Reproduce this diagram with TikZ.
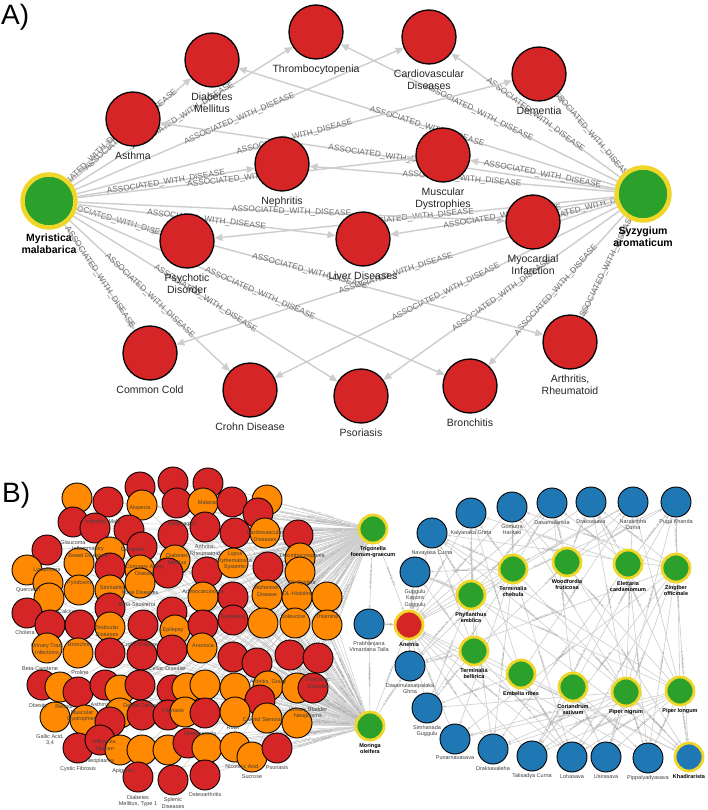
\documentclass[tikz,border=0pt]{standalone}
\usepackage{fontspec}
\setmainfont{Liberation Sans}
\usetikzlibrary{arrows.meta}
\pgfdeclarelayer{back}
\pgfdeclarelayer{bg}
\pgfsetlayers{back,bg,main}
\definecolor{dred}{RGB}{214,37,38}
\definecolor{hgreen}{RGB}{43,160,43}
\definecolor{hyel}{RGB}{240,214,40}
\definecolor{borange}{RGB}{255,137,0}
\definecolor{bblue}{RGB}{31,119,180}
\definecolor{egray}{RGB}{205,205,205}
\definecolor{lgray}{RGB}{110,110,110}
\begin{document}
\begin{tikzpicture}[x=1pt,y=-1pt]
\tikzset{
 dis/.style={circle,draw=black,line width=1.3pt,fill=dred,minimum size=54pt,inner sep=0pt},
 herbA/.style={circle,draw=hyel,line width=4.5pt,fill=hgreen,minimum size=53pt,inner sep=0pt},
 labA/.style={font=\fontsize{10.5}{11.5}\selectfont,text=black!85,align=center,inner sep=0pt,anchor=north},
 blabA/.style={labA,font=\bfseries\fontsize{10.5}{11.5}\selectfont,text=black},
 relA/.style={draw=egray,line width=1.4pt,-{Triangle[length=8pt,width=7pt]}},
 rlabA/.style={midway,sloped,font=\fontsize{8.3}{9}\selectfont,text=lgray,inner sep=0pt},
 panel/.style={font=\fontsize{28}{30}\selectfont,anchor=base west,inner sep=0pt},
 lnode/.style={circle,draw=black,line width=0.9pt,minimum size=30pt,inner sep=0pt},
 bnode/.style={lnode,fill=bblue},
 herbB/.style={circle,draw=hyel,line width=2.8pt,fill=hgreen,minimum size=28pt,inner sep=0pt},
 labB/.style={font=\fontsize{5.5}{6.5}\selectfont,text=black!75,align=center,inner sep=0pt},
 blabB/.style={labB,font=\bfseries\fontsize{5.5}{6.5}\selectfont,text=black},
 edgeB/.style={draw=egray,line width=0.5pt},
 redgeB/.style={draw=egray,line width=0.6pt,-{Triangle[length=3pt,width=2.5pt]}},
 elabB/.style={sloped,font=\fontsize{2.4}{3}\selectfont,text=black!45,inner sep=0pt},
}
\useasboundingbox (0,0) rectangle (708,810);
\begin{pgfonlayer}{back}
\fill[white] (0,0) rectangle (708,810);
\end{pgfonlayer}

\node[panel] (pA) at (1,25) {A)};
\node[panel] (pB) at (2,502) {B)};

% ---------------- Panel A ----------------
\foreach \n/\x/\y/\t in {DM/212/60/{Diabetes\\Mellitus}, TH/316/32/Thrombocytopenia, AS/133/119/Asthma, NE/282/164/Nephritis, PD/187/241/{Psychotic\\Disorder}, CV/429/37/{Cardiovascular\\Diseases}, DE/539/74/Dementia, MD/443/155/{Muscular\\Dystrophies}, MI/533/222/{Myocardial\\Infarction}, LD/363/239/{Liver Diseases}, CC/150/353/{Common Cold}, CD/250/390/{Crohn Disease}, PS/361/396/Psoriasis, BR/470/386/Bronchitis, AR/570/342/{Arthritis,\\Rheumatoid}}
{\node[dis] (\n) at (\x,\y) {};
 \node[labA] (l\n) at (\x,\y+33) {\t};}
\node[herbA] (M) at (49,201) {};
\node[blabA] (lM) at (49,234) {Myristica\\malabarica};
\node[herbA] (S) at (643,194) {};
\node[blabA] (lS) at (643,227) {Syzygium\\aromaticum};

\begin{pgfonlayer}{bg}
\foreach \n in {DM,TH,AS,NE,PD,CV,DE,MD,MI,LD,CC,CD,PS,BR,AR}{
 \draw[relA] (M) -- node[rlabA]{ASSOCIATED\_WITH\_DISEASE} (\n);
 \draw[relA] (S) -- node[rlabA]{ASSOCIATED\_WITH\_DISEASE} (\n);
}
\end{pgfonlayer}

% ---------------- Panel B left cluster ----------------
\def\Llist{140/487/dred, 173/482/dred, 208/483/dred,
77/498/borange, 108/502/dred, 142/505/borange, 177/503/dred, 203/503/borange, 232/502/dred, 267/500/borange, 258/513/dred,
73/522/dred, 95/528/dred, 129/530/dred, 173/535/dred, 205/527/dred, 235/533/dred, 265/533/borange, 298/535/dred,
47/550/dred, 110/552/borange, 142/547/dred, 79/563/borange, 110/568/dred, 140/570/borange, 175/560/borange, 168/573/dred, 207/572/dred, 233/563/borange, 268/567/dred, 300/558/borange, 300/572/borange,
27/570/borange, 48/583/borange, 49/598/borange, 79/590/borange, 110/590/borange, 140/583/borange, 203/597/borange, 233/597/dred, 267/595/borange, 297/597/borange, 327/597/borange,
27/613/dred, 50/625/dred, 80/625/dred, 110/608/dred, 110/627/borange, 143/625/dred, 172/612/dred, 175/630/borange, 203/625/dred, 233/620/dred, 263/623/borange, 295/623/borange, 327/625/borange,
47/648/borange, 78/653/borange, 110/653/dred, 142/655/dred, 172/650/dred, 202/648/borange, 233/657/dred, 257/663/dred, 290/655/dred, 318/658/dred,
42/685/dred, 60/687/borange, 78/692/dred, 105/685/dred, 120/690/borange, 140/685/dred, 172/690/dred, 187/688/borange, 205/685/borange, 235/688/borange, 268/686/borange, 297/688/borange, 260/700/dred, 313/688/dred,
55/717/borange, 85/720/borange, 120/713/borange, 110/722/dred, 142/715/dred, 168/715/dred, 185/712/borange, 205/713/dred, 235/712/borange, 267/718/borange, 297/723/borange,
78/748/dred, 100/740/dred, 120/750/borange, 142/750/borange, 168/750/borange, 188/743/dred, 207/748/borange, 235/747/borange, 252/757/borange, 277/748/dred,
138/777/dred, 173/780/dred, 205/775/dred}
\foreach \x/\y/\c [count=\i] in \Llist {\node[lnode,fill=\c] (L\i) at (\x,\y) {};}

\foreach \x/\y/\t [count=\k] in {140/508/Alopecia, 207/503/Malaria, 103/522/{Infertility, Male}, 182/524/Esophagitis, 73/543/Glaucoma, 88/552/{Inflammatory\\Bowel Diseases}, 133/550/Dementia, 205/550/{Arthritis,\\Rheumatoid}, 47/570/Lymphoma, 145/570/{Coronary Artery\\Disease}, 177/559/{Diabetes\\Mellitus}, 235/561/{Lupus\\Erythematosus,\\Systemic}, 28/590/Quercetin, 80/583/Pyridoxine, 112/588/Stomatitis, 140/593/{Nose Diseases}, 203/592/Adenocarcinoma, 137/605/Beta-Sitosterol, 68/612/Calcium, 107/631/{Testicular\\Diseases}, 173/630/Epilepsy, 25/633/Cholera, 265/536/{Cardiovascular\\Diseases}, 302/556/Thrombocytopenia, 302/583/DL-Cystine, 267/591/{Alzheimer\\Disease}, 298/594/DL-Histidine, 233/617/Dysentery, 293/617/Isoleucine, 327/617/Thiamine, 47/649/{Urinary Tract\\Infections}, 80/645/Bronchitis, 140/645/{Crohn Disease}, 203/646/Anorexia, 40/669/Beta-Carotene, 80/673/Proline, 167/669/{Celiac Disease}, 38/706/Obesity, 64/707/Retinol, 82/716/{Muscular\\Dystrophies}, 100/705/Asthma, 140/706/{Dental Caries}, 173/711/Filariasis, 268/682/{Arthritis, Gouty}, 318/683/{Psychotic\\Disorder}, 263/720/{Carotid Stenosis}, 308/713/{Urinary Bladder\\Neoplasms}, 233/728/Rutin, 50/740/{Gallic Acid,\\3,4}, 105/745/{Influenza,\\Human}, 200/734/Osteoporosis, 78/769/{Cystic Fibrosis}, 100/761/Neoplasms, 123/771/Apigenin, 242/767/{Nicotinic Acid}, 277/768/Psoriasis, 252/777/Sucrose, 138/801/{Diabetes\\Mellitus, Type 1}, 173/803/{Splenic\\Diseases}, 205/795/Osteoarthritis}
{\node[labB] (LL\k) at (\x,\y) {\t};}

% ---------------- Panel B right part ----------------
\foreach \n/\x/\y/\t in {NC/432/533/{Navayasa Curna}, KG/471/513/{Kalyanaka Ghrta}, GH/512/507/{Gomutra\\Haritaki}, DA/552/503/Dasamularista, DR/591/502/Draksasava, NaC/633/502/{Narasimha\\Curna}, PK/676/502/{Puga Khanda}, GKG/415/572/{Guggulu\\Kapora\\Guggulu}, DG/410/666/{Dasamulasatpalaka\\Ghrta}, SG/427/708/{Simhanada\\Guggulu}, PU/455/739/Punarnavasava, DV/493/749/Draksavaleha, TCu/532/756/{Talisadya Curna}, LO/572/757/Lohasava, US/606/757/Usirasava, PP/648/758/Pippalyadyasava, PV/369/624/{Prabhanjana\\Vimardana Taila}}
{\node[bnode] (\n) at (\x,\y) {};
 \node[labB,anchor=north] (l\n) at (\x,\y+17) {\t};}
\node[bnode,draw=hyel,line width=2.8pt,minimum size=28pt] (KH) at (689,757) {};
\node[blabB,anchor=north] (lKH) at (689,774) {Khadirarista};
\node[lnode,fill=dred,draw=hyel,line width=2.8pt,minimum size=28pt] (AN) at (409,625) {};
\node[blabB,anchor=north] (lAN) at (409,642) {Anemia};

\foreach \n/\x/\y/\t in {TF/373/529/{Trigonella\\foenum-graecum}, MO/370/726/{Moringa\\oleifera}, TC/513/569/{Terminalia\\chebula}, WF/567/562/{Woodfordia\\fruticosa}, EC/628/564/{Elettaria\\cardamomum}, ZO/676/568/{Zingiber\\officinale}, PE/471/595/{Phyllanthus\\emblica}, TB/474/651/{Terminalia\\bellirica}, ER/521/674/{Embelia ribes}, CS/573/687/{Coriandrum\\sativum}, PN/626/692/{Piper nigrum}, PL/680/691/{Piper longum}}
{\node[herbB] (\n) at (\x,\y) {};
 \node[blabB,anchor=north] (l\n) at (\x,\y+17) {\t};}

\begin{pgfonlayer}{bg}
\foreach \x/\y/\c [count=\i] in \Llist {
 \ifodd\i
 \draw[edgeB] (TF) -- node[elabB,pos=0.3]{ASSOCIATED\_WITH\_DISEASE} (L\i);
 \draw[edgeB] (MO) -- (L\i);
 \else
 \draw[edgeB] (TF) -- (L\i);
 \draw[edgeB] (MO) -- node[elabB,pos=0.3]{ASSOCIATED\_WITH\_DISEASE} (L\i);
 \fi
}
\foreach \a/\b in {TC/NC, TC/KG, TC/GH, TC/DA, TC/GKG, TC/DG, TC/SG, TC/PU, TC/DV, TC/LO, TC/KH,
 PE/NC, PE/KG, PE/DA, PE/NaC, PE/GKG, PE/DG, PE/SG, PE/DV, PE/LO, PE/KH,
 TB/NC, TB/KG, TB/NaC, TB/GKG, TB/DG, TB/SG, TB/LO, TB/KH,
 WF/DA, WF/DR, WF/KH, WF/PK,
 EC/KG, EC/DA, EC/DR, EC/PK, EC/DV, EC/TCu, EC/PP,
 ZO/NC, ZO/GH, ZO/DR, ZO/PK, ZO/DG, ZO/PU, ZO/TCu, ZO/LO, ZO/US, ZO/PP, ZO/KH,
 ER/KG, ER/NaC, ER/SG, ER/LO,
 CS/DA, CS/PK, CS/TCu, CS/US, CS/PP,
 PN/NC, PN/GH, PN/DR, PN/NaC, PN/PK, PN/SG, PN/PU, PN/DV, PN/TCu, PN/LO, PN/US, PN/PP, PN/KH,
 PL/NC, PL/GH, PL/DR, PL/NaC, PL/PK, PL/GKG, PL/PU, PL/DV, PL/TCu, PL/LO, PL/US, PL/PP, PL/KH}
{\draw[redgeB] (\a) -- node[elabB,midway]{IS\_INGREDIENT\_OF} (\b);}
\foreach \b in {NC,KG,GH,DA,DR,NaC,PK,GKG,DG,SG,PU,DV,TCu,LO,US,PP,KH,PV,TF,MO}
{\draw[redgeB] (\b) -- node[elabB,midway]{INDICATED\_FOR} (AN);}
\draw[redgeB] (TF) -- node[elabB,midway]{IS\_INGREDIENT\_OF} (PV);
\draw[redgeB] (MO) -- node[elabB,midway]{IS\_INGREDIENT\_OF} (PV);
\draw[redgeB] (MO) -- node[elabB,midway]{IS\_INGREDIENT\_OF} (DG);
\end{pgfonlayer}
\end{tikzpicture}
\end{document}
